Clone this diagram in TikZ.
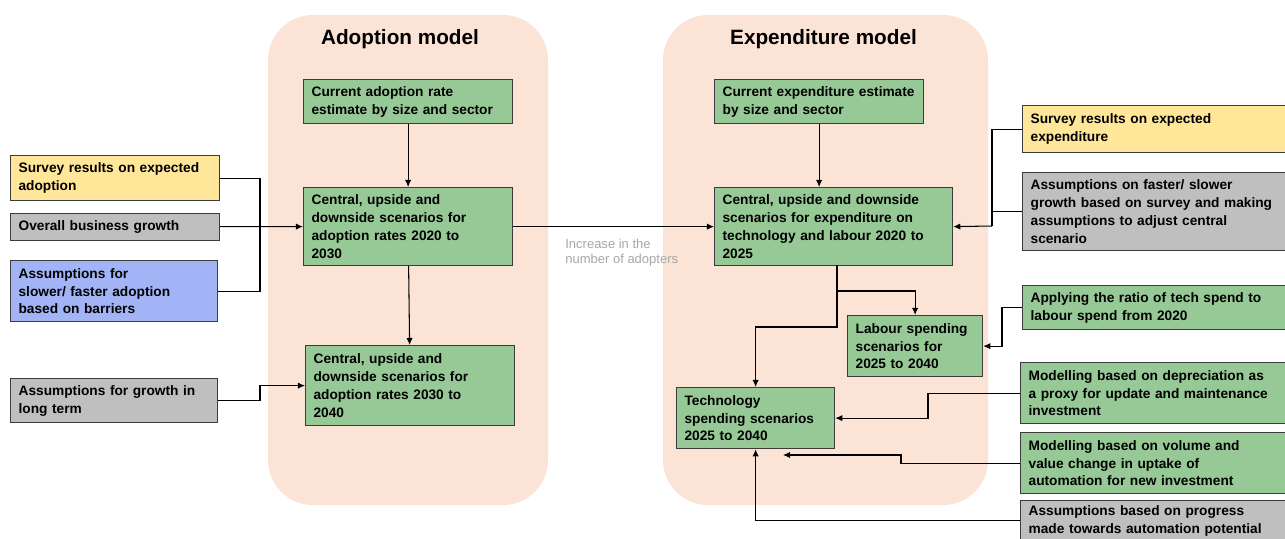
\documentclass[tikz,border=0pt]{standalone}
\usepackage{fontspec}
\setmainfont{Liberation Sans}
\usetikzlibrary{positioning}
\usetikzlibrary{arrows.meta}
\definecolor{peach}{RGB}{251,228,214}
\definecolor{boxgreen}{RGB}{151,201,151}
\definecolor{boxyellow}{RGB}{255,230,153}
\definecolor{boxgrey}{RGB}{191,191,191}
\definecolor{boxblue}{RGB}{163,180,246}
\definecolor{boxline}{RGB}{60,60,60}
\definecolor{notegrey}{RGB}{166,166,166}
\tikzset{
	modbox/.style={draw=boxline, line width=0.7pt, inner xsep=0.16cm, inner ysep=0.04cm, align=left, anchor=north west, font=\bfseries\fontsize{7.8}{10.2}\selectfont},
	gbox/.style={modbox, fill=boxgreen},
	ybox/.style={modbox, fill=boxyellow},
	greybox/.style={modbox, fill=boxgrey},
	bluebox/.style={modbox, fill=boxblue},
	conn/.style={draw=black, line width=0.6pt},
	arr/.style={conn, -{Latex[length=4pt,width=3.6pt]}},
	paneltitle/.style={font=\bfseries\fontsize{11.8}{14}\selectfont},
}

\begin{document}
\begin{tikzpicture}
	\useasboundingbox (0,0) rectangle (25.70,-10.76);
	%% panels
	\fill[peach, rounded corners=0.9cm] (5.36,-0.30) rectangle (10.96,-10.10);
	\fill[peach, rounded corners=0.9cm] (13.26,-0.30) rectangle (19.76,-10.10);
	\node[paneltitle] (adtitle) at (8.00,-0.78) {Adoption model};
	\node[paneltitle] (extitle) at (16.47,-0.78) {Expenditure model};
	%% adoption model
	\node[gbox, text width=3.86cm, minimum height=0.88cm] (a1) at (6.06,-1.58) {Current adoption rate\\estimate by size and sector};
	\node[gbox, text width=3.86cm, minimum height=1.56cm] (a2) at (6.06,-3.74) {Central, upside and\\downside scenarios for\\adoption rates 2020 to\\2030};
	\node[gbox, text width=3.86cm, minimum height=1.60cm] (a3) at (6.10,-6.90) {Central, upside and\\downside scenarios for\\adoption rates 2030 to\\2040};
	%% expenditure model
	\node[gbox, text width=3.86cm, minimum height=0.88cm] (e1) at (14.28,-1.58) {Current expenditure estimate\\by size and sector};
	\node[gbox, text width=4.44cm, minimum height=1.56cm] (e2) at (14.28,-3.74) {Central, upside and downside\\scenarios for expenditure on\\technology and labour 2020 to\\2025};
	\node[gbox, text width=2.38cm, minimum height=1.22cm] (e3) at (16.94,-6.30) {Labour spending\\scenarios for\\2025 to 2040};
	\node[gbox, text width=2.84cm, minimum height=1.22cm] (e4) at (13.52,-7.74) {Technology\\spending scenarios\\2025 to 2040};
	%% left inputs
	\node[ybox, text width=3.86cm, minimum height=0.90cm] (l1) at (0.20,-3.10) {Survey results on expected\\adoption};
	\node[greybox, text width=3.86cm, minimum height=0.54cm] (l2) at (0.20,-4.25) {Overall business growth};
	\node[bluebox, text width=3.82cm, minimum height=1.22cm] (l3) at (0.20,-5.20) {Assumptions for\\slower/ faster adoption\\based on barriers};
	\node[greybox, text width=3.82cm, minimum height=0.88cm] (l4) at (0.20,-7.56) {Assumptions for growth in\\long term};
	%% right inputs
	\node[ybox, text width=4.94cm, minimum height=0.94cm] (r1) at (20.44,-2.10) {Survey results on expected\\expenditure};
	\node[greybox, text width=4.94cm, minimum height=1.56cm] (r2) at (20.44,-3.44) {Assumptions on faster/ slower\\growth based on survey and making\\assumptions to adjust central\\scenario};
	\node[gbox, text width=4.94cm, minimum height=0.88cm] (r3) at (20.44,-5.70) {Applying the ratio of tech spend to\\labour spend from 2020};
	\node[gbox, text width=4.98cm, minimum height=1.22cm] (r4) at (20.40,-7.24) {Modelling based on depreciation as\\a proxy for update and maintenance\\investment};
	\node[gbox, text width=4.98cm, minimum height=1.22cm] (r5) at (20.40,-8.64) {Modelling based on volume and\\value change in uptake of\\automation for new investment};
	\node[greybox, text width=4.98cm, minimum height=0.80cm] (r6) at (20.40,-10.00) {Assumptions based on progress\\made towards automation potential};
	%% joints
	\coordinate (jl) at (5.20,-4.52);
	\coordinate (jr) at (19.84,-4.52);
	\coordinate (je) at (16.74,-5.30);
	\coordinate (t5) at (15.66,-9.10);
	% connectors, adoption side
	\draw[conn] (l1.east) -| (jl);
	\draw[conn] (l3.east) -| (jl);
	\draw[arr] (l2.east) -- (a2.west);
	\draw[arr] (l4.east) -- (l4.east -| jl) |- (a3.west);
	\draw[arr] (a1) -- (a2);
	\draw[arr] (a2) -- (a3);
	\draw[arr] (a2.east) -- (e2.west);
	\node[anchor=north west, align=left, text=notegrey, inner sep=0pt, font=\fontsize{7.4}{8.6}\selectfont] (note) at (11.30,-4.78) {Increase in the\\number of adopters};
	% connectors, expenditure side
	\draw[arr] (e1.south) -- (e1.south |- e2.north);
	\draw[conn] (r1.west) -| (jr);
	\draw[conn] (r2.west) -| (jr);
	\draw[arr] (jr) -- (e2.east);
	\draw[arr] (je) -- ++(0,-0.52) -| (e3.north);
	\draw[arr] (je) -- ++(0,-1.24) -| (e4.north);
	\draw[arr] (r3.west) -- ++(-0.40,0) |- (e3.east);
	\draw[arr] (r4.west) -- ++(-1.84,0) |- (e4.east);
	\draw[arr] (r5.west) -- ++(-2.38,0) |- (t5);
	\draw[arr] (r6.west) -| (e4.south);
\end{tikzpicture}
\end{document}
